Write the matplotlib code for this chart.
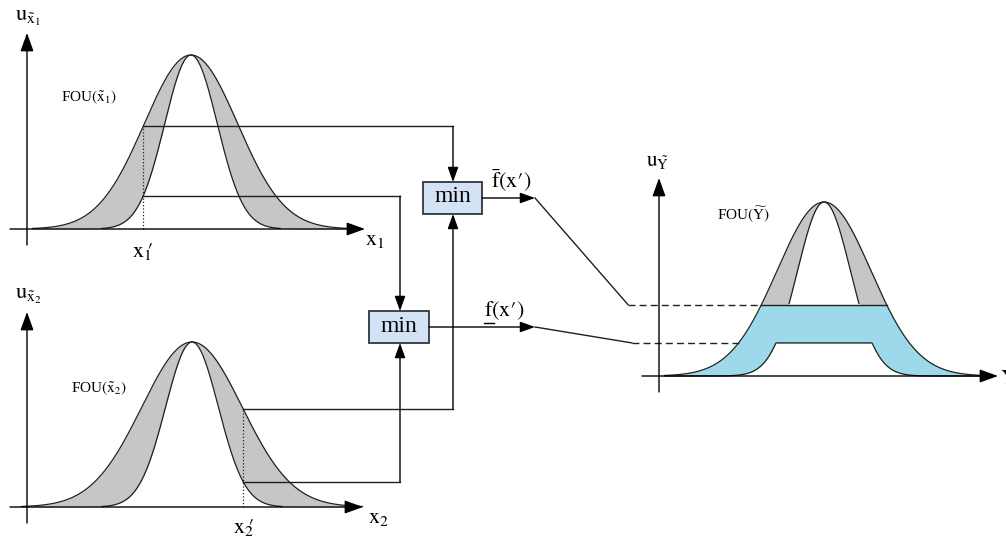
import numpy as np
import matplotlib.pyplot as plt
from matplotlib.patches import Rectangle

plt.rcParams['font.family'] = ['Liberation Serif', 'DejaVu Serif']
plt.rcParams['mathtext.fontset'] = 'stix'

W, H = 1006, 539

# membership functions (gaussian, peak 1): centre, upper / lower sigma per panel
mf_center = [5.0, 5.0, 5.0]
sig_upper = [1.42, 1.52, 1.42]
sig_lower = [0.80, 0.80, 0.80]
x_prime = [3.54, 6.55]          # x'1, x'2
f_upper, f_lower = 0.41, 0.19   # firing interval drawn on the output set

GRAY = '#c6c6c6'
BLUE = '#9dd9ea'
LINE = '#1c221c'


def gauss(x, c, s):
    return np.exp(-(x - c) ** 2 / (2 * s ** 2))


fig = plt.figure(figsize=(W / 100, H / 100), dpi=100)

# overlay in pixel coords for arrows, boxes and labels
ov = fig.add_axes([0, 0, 1, 1])
ov.set_xlim(0, W)
ov.set_ylim(H, 0)
ov.axis('off')
ov.set_zorder(5)


def make_panel(left, top, right, bottom, ox, oy, sx, su):
    ax = fig.add_axes([left / W, 1 - bottom / H, (right - left) / W, (bottom - top) / H])
    ax.set_xlim((left - ox) / sx, (right - ox) / sx)
    ax.set_ylim((oy - bottom) / su, (oy - top) / su)
    ax.axis('off')
    return ax


def to_px(ax, x, y):
    d = ax.transData.transform((x, y))
    return ov.transData.inverted().transform(d)


def arrow(p0, p1, ms=15):
    ov.annotate('', xy=p1, xytext=p0,
                arrowprops=dict(arrowstyle='-|>,head_length=0.75,head_width=0.27',
                                mutation_scale=ms, lw=1.0, color='k',
                                shrinkA=0, shrinkB=0))


ax1 = make_panel(8, 30, 372, 250, 27, 229, 32.8, 174)
ax2 = make_panel(8, 300, 372, 530, 27, 507, 33.0, 165)
ax3 = make_panel(640, 170, 1006, 400, 659, 376, 33.0, 174)

# coordinate axes
arrow((10, 229), (365, 229)); arrow((27, 245), (27, 33))
arrow((10, 507), (363, 507)); arrow((27, 523), (27, 312))
arrow((642, 376), (998, 376)); arrow((659, 392), (659, 178))

# input sets
for i, ax in enumerate([ax1, ax2]):
    c, su, sl = mf_center[i], sig_upper[i], sig_lower[i]
    x = np.linspace(c - 3.4 * su, c + 3.4 * su, 500)
    U = gauss(x, c, su)
    L = gauss(x, c, sl)
    ax.fill_between(x, L, U, color=GRAY, lw=0)
    ax.plot(x, U, color=LINE, lw=0.9)
    xl = np.linspace(c - 3.4 * sl, c + 3.4 * sl, 300)
    ax.plot(xl, gauss(xl, c, sl), color=LINE, lw=0.9)
    xp = x_prime[i]
    ax.plot([xp, xp], [0, gauss(xp, c, su)], ls=':', color=LINE, lw=0.9)

# routing to the min boxes
up1 = to_px(ax1, x_prime[0], gauss(x_prime[0], mf_center[0], sig_upper[0]))
lo1 = to_px(ax1, x_prime[0], gauss(x_prime[0], mf_center[0], sig_lower[0]))
up2 = to_px(ax2, x_prime[1], gauss(x_prime[1], mf_center[1], sig_upper[1]))
lo2 = to_px(ax2, x_prime[1], gauss(x_prime[1], mf_center[1], sig_lower[1]))

ov.plot([up1[0], 453], [up1[1], up1[1]], color=LINE, lw=1.0)
arrow((453, up1[1]), (453, 182), ms=12)
ov.plot([lo1[0], 400], [lo1[1], lo1[1]], color=LINE, lw=1.0)
arrow((400, lo1[1]), (400, 311), ms=12)
ov.plot([up2[0], 453], [up2[1], up2[1]], color=LINE, lw=1.0)
arrow((453, up2[1]), (453, 214), ms=12)
ov.plot([lo2[0], 400], [lo2[1], lo2[1]], color=LINE, lw=1.0)
arrow((400, lo2[1]), (400, 343), ms=12)

for (bx0, by0, bx1, by1) in [(423, 182, 482, 214), (369, 311, 429, 343)]:
    ov.add_patch(Rectangle((bx0, by0), bx1 - bx0, by1 - by0, fc='#d3e2f4',
                           ec='#2e3740', lw=1.3))
    ov.text((bx0 + bx1) / 2, (by0 + by1) / 2 - 1, 'min', fontsize=17,
            ha='center', va='center')

# output set
c, su, sl = mf_center[2], sig_upper[2], sig_lower[2]
x = np.linspace(c - 3.4 * su, c + 3.4 * su, 800)
U = gauss(x, c, su)
L = gauss(x, c, sl)
ax3.fill_between(x, np.minimum(L, f_lower), np.minimum(U, f_upper), color=BLUE, lw=0)
ax3.fill_between(x, np.maximum(L, f_upper), U, where=U > f_upper,
                 interpolate=True, color=GRAY, lw=0)
ax3.plot(x, U, color=LINE, lw=0.9)
ax3.plot(x, np.minimum(L, f_lower), color=LINE, lw=0.9)
ax3.plot(x, np.where(L >= f_upper, L, np.nan), color=LINE, lw=0.9)
xa = c - su * np.sqrt(-2 * np.log(f_upper))
xb = c + su * np.sqrt(-2 * np.log(f_upper))
ax3.plot([xa, xb], [f_upper, f_upper], color=LINE, lw=1.0)

# outputs of the min boxes to the output set
pu = to_px(ax3, xa, f_upper)
pl = to_px(ax3, c - su * np.sqrt(-2 * np.log(f_lower)), f_lower)
arrow((482, 198), (535, 198), ms=12)
ov.plot([535, 628], [198, pu[1]], color=LINE, lw=1.0)
ov.plot([628, pu[0]], [pu[1], pu[1]], color=LINE, lw=1.0, ls=(0, (5, 3)))
arrow((429, 327), (535, 327), ms=12)
ov.plot([535, 632], [327, pl[1]], color=LINE, lw=1.0)
ov.plot([632, pl[0]], [pl[1], pl[1]], color=LINE, lw=1.0, ls=(0, (5, 3)))

# labels
ov.text(15, 18, r'$\mathrm{u}_{\tilde{\mathrm{x}}_1}$', fontsize=16, va='center')
ov.text(61, 97, r'FOU$(\tilde{\mathrm{x}}_1)$', fontsize=11, va='center')
ov.text(365, 241, r'$\mathrm{x}_1$', fontsize=16, va='center')
ov.text(143, 251, r'$\mathrm{x}_1\!\!\prime$', fontsize=16, ha='center', va='center')

ov.text(15, 296, r'$\mathrm{u}_{\tilde{\mathrm{x}}_2}$', fontsize=16, va='center')
ov.text(71, 388, r'FOU$(\tilde{\mathrm{x}}_2)$', fontsize=11, va='center')
ov.text(368, 519, r'$\mathrm{x}_2$', fontsize=16, va='center')
ov.text(244, 527, r'$\mathrm{x}_2\!\!\prime$', fontsize=16, ha='center', va='center')

ov.text(646, 163, r'$\mathrm{u}_{\tilde{\mathrm{Y}}}$', fontsize=15, va='center')
ov.text(717, 214, r'FOU$(\widetilde{\mathrm{Y}})$', fontsize=11, va='center')
ov.text(1000, 379, r'$\mathrm{Y}$', fontsize=16, va='center')

ov.text(491, 181, r'$\bar{\mathrm{f}}(\mathrm{x}\prime)$', fontsize=16, va='center')
ov.text(484, 311, r'$\mathrm{f}(\mathrm{x}\prime)$', fontsize=16, va='center')
ov.plot([484, 494], [323, 323], color='k', lw=1.0)

fig.savefig('out.png', dpi=100)
